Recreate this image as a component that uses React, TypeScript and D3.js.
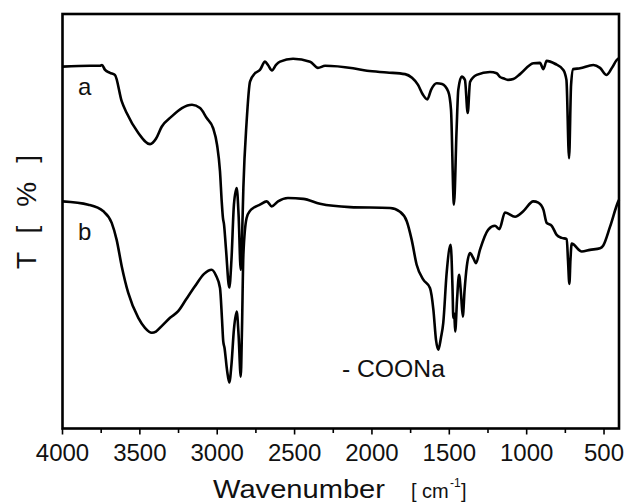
import React from "react";
import * as d3 from "d3";

// Wavenumber (cm^-1) and transmittance (arbitrary %)
const waveA = [4000, 3822, 3758, 3745, 3725, 3693, 3661, 3617, 3585, 3512, 3434, 3396, 3359, 3294, 3228, 3163, 3111, 3068, 3027, 3001, 2982, 2971, 2963, 2956, 2943, 2922, 2908, 2892, 2874, 2862, 2848, 2840, 2831, 2810, 2788, 2756, 2724, 2691, 2672, 2646, 2620, 2594, 2510, 2400, 2349, 2303, 2122, 2032, 1903, 1786, 1741, 1702, 1670, 1642, 1618, 1581, 1547, 1507, 1489, 1470, 1453, 1442, 1420, 1399, 1381, 1366, 1323, 1237, 1194, 1172, 1151, 1121, 1086, 1043, 957, 914, 892, 871, 817, 763, 743, 726, 713, 699, 655, 569, 526, 483, 449, 418, 403];
const valA = [87.3, 87.5, 87.5, 87.7, 86.5, 85.8, 85.3, 78.9, 76.1, 71.4, 68.6, 69.9, 72.8, 75.3, 77.3, 78.1, 77.3, 74.9, 72.5, 68.4, 62.0, 54.8, 50.8, 49.2, 43.1, 34.0, 40.7, 54.0, 58.0, 51.6, 38.3, 45.5, 58.1, 74.0, 83.7, 85.7, 86.5, 88.5, 87.7, 86.4, 87.7, 88.5, 89.2, 88.5, 87.0, 87.5, 86.9, 86.3, 85.9, 85.5, 84.6, 82.9, 80.5, 79.4, 81.7, 83.3, 83.1, 81.3, 76.9, 54.0, 72.0, 81.7, 84.9, 84.1, 76.1, 83.6, 85.3, 86.0, 85.7, 84.8, 84.5, 84.1, 84.3, 85.5, 88.1, 88.2, 86.7, 88.7, 88.0, 86.5, 84.1, 65.2, 82.9, 86.7, 86.9, 87.7, 87.0, 85.3, 87.0, 88.9, 89.4];

const waveB = [4000, 3833, 3736, 3682, 3650, 3617, 3575, 3510, 3467, 3423, 3396, 3359, 3305, 3252, 3202, 3144, 3085, 3036, 3008, 2982, 2969, 2961, 2953, 2937, 2922, 2908, 2892, 2874, 2862, 2848, 2840, 2831, 2810, 2788, 2767, 2724, 2680, 2648, 2607, 2543, 2444, 2336, 2142, 1883, 1819, 1775, 1743, 1711, 1668, 1625, 1603, 1586, 1571, 1554, 1539, 1517, 1491, 1479, 1474, 1468, 1462, 1450, 1437, 1424, 1413, 1401, 1387, 1366, 1346, 1327, 1302, 1248, 1205, 1177, 1140, 1075, 1022, 957, 925, 892, 871, 838, 806, 774, 741, 733, 724, 717, 709, 644, 591, 526, 506, 461, 408, 403];
const valB = [54.8, 54.0, 52.4, 49.6, 45.5, 39.1, 32.7, 26.7, 24.3, 23.1, 23.4, 24.7, 26.7, 28.3, 31.1, 34.3, 37.3, 38.3, 36.9, 33.9, 26.3, 21.0, 19.5, 14.2, 11.1, 15.4, 23.9, 28.2, 22.6, 12.5, 23.9, 41.9, 50.8, 52.5, 53.2, 54.0, 54.8, 53.6, 54.8, 55.6, 55.4, 54.2, 53.4, 53.2, 52.3, 50.0, 45.5, 39.5, 35.9, 33.9, 28.7, 21.4, 19.0, 21.9, 25.5, 37.6, 44.3, 33.5, 26.7, 27.8, 23.4, 31.1, 37.1, 32.3, 27.0, 33.5, 39.1, 42.3, 41.2, 39.9, 43.1, 48.0, 48.9, 48.1, 52.1, 51.1, 52.4, 54.8, 54.5, 52.8, 49.6, 48.9, 46.7, 46.0, 45.7, 40.7, 34.9, 40.7, 44.6, 42.7, 43.1, 43.5, 44.1, 48.7, 54.8, 55.2];

const majorTicks = [4000, 3500, 3000, 2500, 2000, 1500, 1000, 500];
const minorTicks = [3750, 3250, 2750, 2250, 1750, 1250, 750];

const curveLabels = ["a", "b"];
const curveLabelWave = [3900, 3900];
const curveLabelVal = [80.5, 45.5];
const annotation = "- COONa";
const annotationWave = [2194];
const annotationVal = [12.5];

const W = 625;
const H = 502;
const left = 62.5;
const right = 619;
const top = 14;
const bottom = 428.5;
const font = "'Liberation Sans', Arial, Helvetica, sans-serif";

export default function App() {
  const x = d3.scaleLinear().domain([4000, 400]).range([left, right + 0.5]);
  const y = d3.scaleLinear().domain([0, 100]).range([bottom, top]);
  const line = d3
    .line<[number, number]>()
    .x((d) => x(d[0]))
    .y((d) => y(d[1]))
    .curve(d3.curveMonotoneX);
  const dataA = waveA.map((w, i) => [w, valA[i]] as [number, number]);
  const dataB = waveB.map((w, i) => [w, valB[i]] as [number, number]);

  return (
    <svg
      width={W}
      height={H}
      style={{ position: "absolute", left: 0, top: 0, background: "#fff" }}
      fontFamily={font}
    >
      <rect x={0} y={0} width={W} height={H} fill="#fff" />
      <path d={line(dataA) || ""} fill="none" stroke="#000" strokeWidth={2.6} strokeLinejoin="round" />
      <path d={line(dataB) || ""} fill="none" stroke="#000" strokeWidth={2.6} strokeLinejoin="round" />
      <rect x={left} y={top} width={right - left} height={bottom - top} fill="none" stroke="#000" strokeWidth={2.6} />
      {majorTicks.map((t) => (
        <g key={"M" + t}>
          <line x1={x(t)} x2={x(t)} y1={bottom} y2={bottom + 6} stroke="#000" strokeWidth={1.6} />
          <text x={x(t)} y={461} textAnchor="middle" fontSize={24} fill="#111">
            {t}
          </text>
        </g>
      ))}
      {minorTicks.map((t) => (
        <line key={"m" + t} x1={x(t)} x2={x(t)} y1={bottom} y2={bottom + 4.5} stroke="#000" strokeWidth={1.6} />
      ))}
      {curveLabels.map((l, i) => (
        <text key={l} x={x(curveLabelWave[i])} y={y(curveLabelVal[i])} fontSize={24} fill="#111">
          {l}
        </text>
      ))}
      <text x={x(annotationWave[0])} y={y(annotationVal[0])} fontSize={23} fill="#111" textLength={103} lengthAdjust="spacingAndGlyphs">
        {annotation}
      </text>
      <text x={213} y={498} fontSize={25} fill="#111" textLength={172} lengthAdjust="spacingAndGlyphs">
        Wavenumber
      </text>
      <text x={411} y={498} fontSize={20} fill="#111">
        [ cm
      </text>
      <text x={450} y={487} fontSize={12} fill="#111">
        -1
      </text>
      <text x={461} y={498} fontSize={20} fill="#111">
        ]
      </text>
      <text
        transform={`translate(36, 212) rotate(-90)`}
        textAnchor="middle"
        fontSize={28}
        fill="#111"
        textLength={114}
        lengthAdjust="spacing"
      >
        T [ % ]
      </text>
    </svg>
  );
}
